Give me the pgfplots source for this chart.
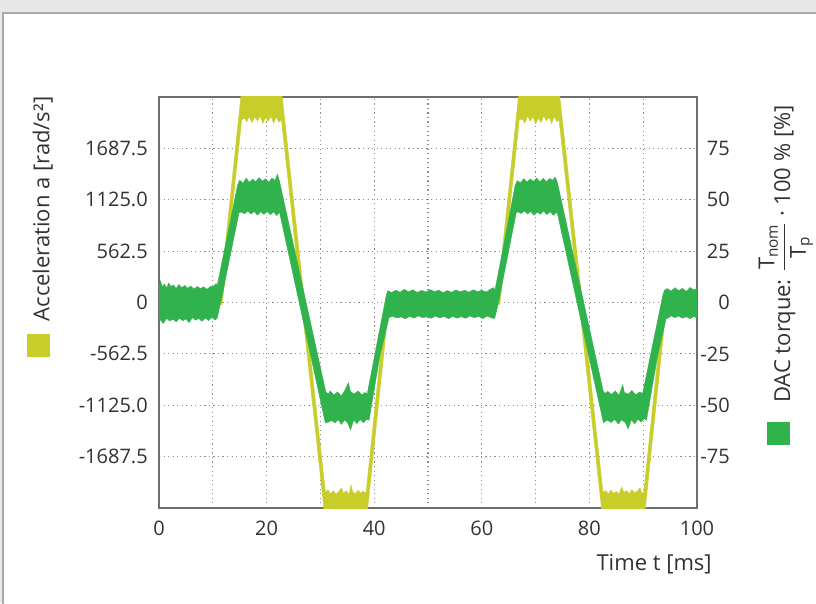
\documentclass[border=0pt]{standalone}
\usepackage{amsmath}
\usepackage{fontspec}
\setmainfont{Open Sans}
\usepackage{pgfplots}
\pgfplotsset{compat=1.18}
\definecolor{accY}{RGB}{200,205,42}
\definecolor{torqG}{RGB}{48,179,76}
\definecolor{gridc}{RGB}{150,135,135}
\definecolor{framec}{RGB}{110,110,110}
\definecolor{txt}{RGB}{50,50,50}
\definecolor{bgband}{RGB}{230,231,233}
\definecolor{borderc}{RGB}{170,170,170}
\begin{document}
\begin{tikzpicture}[x=0.75pt,y=0.75pt]
\path[use as bounding box] (0,0) rectangle (816,603);
\fill[bgband] (0,0) rectangle (816,603);
\fill[white] (3,0) rectangle (816,590);
\draw[borderc, line width=0.9pt] (3,-2) -- (3,590) -- (818,590);
\pgfplotsset{
  mystyle/.style={
    at={(119.25pt,71.25pt)}, anchor=south west, scale only axis,
    width=403.5pt, height=308.25pt, xmin=0, xmax=100,
    major tick length=0pt,
    axis line style={draw=framec, line width=1.2pt},
    tick label style={font=\fontsize{15}{18}\selectfont, text=txt},
  }
}
\begin{axis}[mystyle,
  ymin=-2250, ymax=2250,
  xtick={0,10,...,100}, xticklabels={0,,20,,40,,60,,80,,100},
  ytick={-1687.5,-1125,-562.5,0,562.5,1125,1687.5},
  yticklabels={-1687.5,-1125.0,-562.5,0,562.5,1125.0,1687.5},
  grid=major,
  grid style={gridc, line width=0.9pt, dash pattern=on 0.9pt off 2.5pt},
  yticklabel style={inner sep=0pt, anchor=east, xshift=-8.25pt},
  xticklabel style={inner sep=0pt, anchor=north, yshift=-9.75pt},
]
\addplot[fill=accY, draw=accY, line width=0.3pt] coordinates {
(0,20) (11.24,20) (15.3,2300) (22.81,2300) (30.93,-2080)
(31.4,-2050) (31.9,-2095) (32.4,-2060) (32.9,-2100) (33.4,-2070) (33.9,-2030) (34.3,-2090) (34.8,-2060) (35.3,-2105) (35.7,-2000) (36.0,-2075) (36.5,-2095) (37.0,-2055) (37.5,-2090) (37.9,-2065) (38.3,-2085) (38.5,-2080)
(42.2,20) (62.83,20) (66.9,2300) (74.41,2300) (82.53,-2080)
(83.0,-2060) (83.5,-2095) (84.0,-2055) (84.5,-2090) (85.0,-2070) (85.5,-2100) (86.0,-2020) (86.4,-2080) (86.9,-2060) (87.4,-2095) (87.9,-2050) (88.4,-2085) (88.9,-2065) (89.4,-2030) (89.8,-2090) (90.1,-2080)
(93.8,20) (100,20)
(100,-20) (94.33,-20) (90.31,-2300) (82.34,-2300) (74.36,2000)
(73.9,1980) (73.5,2040) (73.0,1960) (72.5,2030) (72.0,1990) (71.5,2045) (71.0,1970) (70.5,2020) (70.0,1955) (69.5,2035) (69.0,1985) (68.5,2040) (68.0,1965) (67.5,2010) (66.96,2000)
(63.36,-20) (42.73,-20) (38.71,-2300) (30.74,-2300) (22.76,2000)
(22.3,1975) (21.8,2035) (21.3,1965) (20.8,2040) (20.3,1985) (19.8,2025) (19.3,1960) (18.8,2045) (18.3,1990) (17.8,2030) (17.3,1970) (16.8,2035) (16.3,1980) (15.9,2020) (15.36,2000)
(11.76,-20) (0,-20) (0,20)
};
\end{axis}
\begin{axis}[mystyle,
  ymin=-100, ymax=100,
  axis y line*=right, axis x line=none,
  ytick={-75,-50,-25,0,25,50,75},
  yticklabels={-75,-50,-25,0,25,50,75},
  yticklabel style={inner sep=0pt, anchor=east, xshift=24.75pt},
]
\addplot[fill=torqG, draw=torqG, line width=0.3pt] coordinates {
(0,8) (0.3,10.5) (0.6,7.5) (1.0,9) (1.4,7) (1.8,9.5) (2.2,7.8) (2.7,8.5) (3.2,6.8) (3.7,8.8) (4.2,7.2) (4.8,8.3) (5.3,6.9) (5.9,8) (6.5,6.5) (7.1,7.8) (7.7,6.8) (8.3,7.6) (8.9,6.4) (9.5,7.7) (10.1,7.9) (10.6,9.2) (10.8,8)
(14.6,57)
(15.0,59.5) (15.6,58) (16.2,60.5) (16.8,58.5) (17.4,60) (18.0,58.8) (18.6,60.8) (19.2,59) (19.8,60.2) (20.4,58.6) (21.0,60.5) (21.6,59.4) (22.0,62.5) (22.4,59)
(31.0,-43.5)
(31.5,-44.5) (31.8,-43) (32.5,-45) (33.2,-43.5) (33.9,-45.5) (34.6,-42.5) (35.2,-39) (35.6,-43.5) (36.3,-44.5) (37.0,-43) (37.7,-45) (38.3,-43.8) (38.7,-44.5)
(42.2,3) (42.5,5.8)
(43.2,4.8) (44,6) (44.8,5) (45.6,6.4) (46.4,5.2) (47.2,6.2) (48,4.9) (48.8,5.9) (49.6,5.1) (50.4,6.3) (51.2,5.3) (52,6) (52.8,4.8) (53.6,5.8) (54.4,5) (55.2,6.1) (56,5.2) (56.8,6) (57.6,5) (58.4,6.2) (59.2,5.3) (60,6) (60.8,5.1) (61.6,6.5) (62.2,7.2) (62.45,6)
(66.2,57)
(66.6,59.3) (67.2,58.2) (67.8,60.3) (68.4,58.6) (69.0,60.1) (69.6,58.9) (70.2,60.6) (70.8,58.7) (71.4,60.4) (72.0,58.8) (72.6,60.3) (73.2,59.5) (73.6,61) (74.0,59)
(82.6,-43.5)
(83.0,-44.2) (83.4,-43.2) (84.1,-44.8) (84.8,-43) (85.5,-45.2) (86.2,-40) (86.5,-43.8) (87.2,-44.6) (87.9,-42.8) (88.6,-44.9) (89.3,-43.6) (89.9,-44.2)
(93.6,3) (93.9,5.8)
(94.5,6.8) (95.2,5.5) (95.9,7.2) (96.6,5.7) (97.3,6.9) (98,5.4) (98.7,7.3) (99.4,6.1) (100,6.8)
(100,-7.5) (99.4,-6.8) (98.7,-7.9) (98,-6.9) (97.3,-7.6) (96.6,-6.6) (95.9,-7.4) (95.2,-6.5) (94.5,-7.8) (94.3,-7.3)
(92.7,-25.7) (90.6,-57.3)
(90.2,-56.5) (89.6,-58.2) (89.0,-56.8) (88.4,-59) (87.8,-57) (87.2,-61.5) (86.7,-58.5) (86.0,-57) (85.4,-59.2) (84.7,-56.9) (84.0,-58.4) (83.3,-57.2) (82.6,-58.5)
(74.0,44)
(73.3,42.5) (72.7,44.2) (72.1,42.8) (71.5,44.5) (70.9,43) (70.3,44) (69.7,42.4) (69.1,44.3) (68.5,43.1) (67.9,44.6) (67.3,43.3) (66.7,44.1) (66.4,43.7)
(63.1,0) (62.4,-7.8)
(61.8,-7.5) (61.0,-6.6) (60.2,-7.8) (59.4,-6.8) (58.6,-7.4) (57.8,-6.5) (57,-7.7) (56.2,-6.9) (55.4,-7.6) (54.6,-6.7) (53.8,-7.9) (53,-6.8) (52.2,-7.5) (51.4,-6.6) (50.6,-7.7) (49.8,-6.9) (49,-7.4) (48.2,-6.5) (47.4,-7.6) (46.6,-6.8) (45.8,-7.9) (45,-7) (44.2,-7.5) (43.4,-6.7) (42.75,-7.3)
(41.08,-25.7) (39.03,-57.3)
(38.6,-56.8) (38.0,-58.5) (37.4,-56.9) (36.8,-59) (36.2,-57.2) (35.6,-62) (35.1,-58.8) (34.5,-57.1) (33.9,-59.3) (33.3,-57) (32.7,-58.6) (32.1,-57.4) (31.5,-58.2) (30.9,-58.5)
(22.4,44)
(21.9,42.3) (21.3,44.1) (20.7,42.7) (20.1,44.4) (19.5,42.9) (18.9,44.2) (18.3,42.5) (17.7,44.3) (17.1,43) (16.5,44.5) (15.9,43.2) (15.3,44) (14.87,43.7)
(11.47,0) (10.78,-7.8)
(10.4,-8.5) (9.8,-7.2) (9.2,-8.8) (8.6,-7.5) (8.0,-9.2) (7.4,-7.8) (6.8,-8.6) (6.2,-7.3) (5.6,-9.8) (5.0,-8) (4.4,-8.9) (3.8,-7.6) (3.2,-9.4) (2.6,-8.1) (2.0,-9.0) (1.4,-7.7) (0.8,-10.2) (0.3,-8.5) (0,-9) (0,8)
};
\end{axis}
\node[rotate=90, anchor=base, text=txt, font=\fontsize{16.5}{19}\selectfont, inner sep=0pt] at (49.5,394) {Acceleration a [rad/s²]};
\fill[accY] (27,246) rectangle (50,269);
\node[rotate=90, anchor=base, text=txt, font=\fontsize{16.5}{19}\selectfont, inner sep=0pt] at (790,349) {DAC torque: \(\displaystyle\frac{\text{T}_{\text{nom}}}{\text{T}_{\text{p}}}\) · 100 \% [\%]};
\fill[torqG] (767,158) rectangle (790,181);
\node[anchor=base east, text=txt, font=\fontsize{16.5}{19}\selectfont, inner sep=0pt] at (712,33) {Time t [ms]};
\end{tikzpicture}
\end{document}
